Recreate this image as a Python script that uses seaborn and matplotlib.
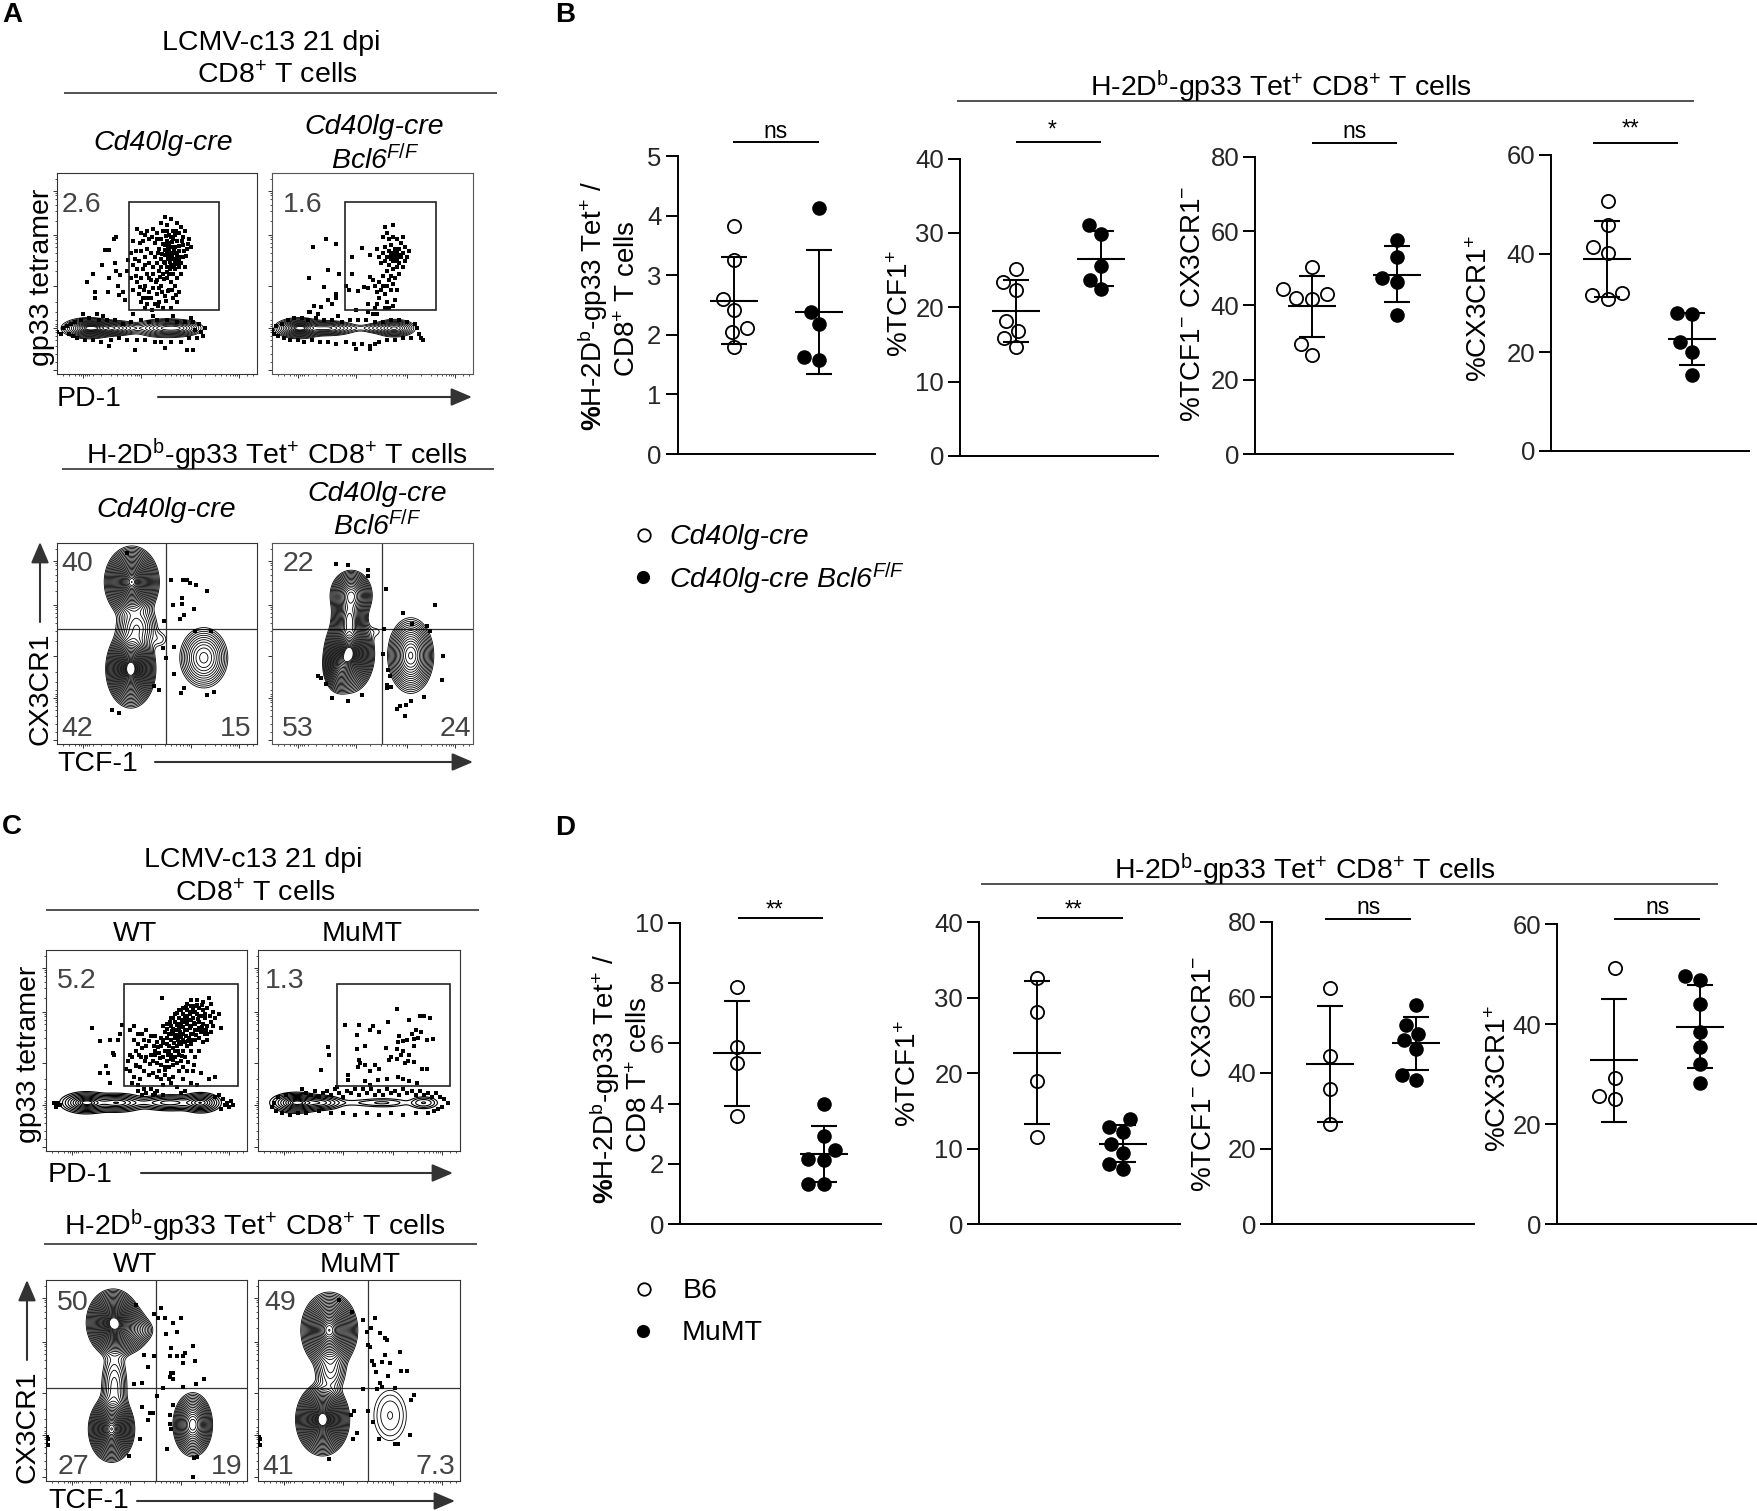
import numpy as np
import pandas as pd
import matplotlib
matplotlib.use("Agg")
import matplotlib.pyplot as plt
from matplotlib.patches import Rectangle
import seaborn as sns

# ---- dot plot values ----
B_CRE_TET = [3.82, 3.26, 2.60, 2.41, 2.11, 2.04, 1.79]
B_BCL_TET = [4.13, 2.39, 2.18, 1.63, 1.57]
B_CRE_TCF = [25.1, 23.4, 22.3, 18.2, 16.8, 15.8, 14.6]
B_BCL_TCF = [31.0, 29.8, 25.6, 23.7, 22.4]
B_CRE_DN = [50.2, 44.3, 43.0, 42.0, 41.6, 29.6, 26.7]
B_BCL_DN = [57.5, 52.9, 47.3, 46.4, 37.5]
B_CRE_CX = [50.6, 45.9, 41.4, 40.2, 32.1, 31.7, 30.9]
B_BCL_CX = [28.0, 27.8, 22.0, 20.1, 15.5]

D_B6_TET = [7.85, 5.86, 5.33, 3.59]
D_MU_TET = [3.99, 2.91, 2.45, 2.15, 2.13, 1.33, 1.33]
D_B6_TCF = [32.6, 28.1, 18.9, 11.5]
D_MU_TCF = [13.9, 12.9, 12.2, 10.6, 9.4, 8.0, 7.3]
D_B6_DN = [62.5, 44.6, 35.7, 26.4]
D_MU_DN = [58.1, 52.7, 50.3, 48.7, 46.4, 39.6, 38.2]
D_B6_CX = [51.2, 29.2, 25.7, 25.0]
D_MU_CX = [49.7, 48.9, 44.0, 38.5, 35.4, 32.1, 28.2]

# mean, sd low, sd high for open and filled groups
B_STATS = [[(2.57, 1.85, 3.31), (2.38, 1.35, 3.42)],
           [(19.5, 15.3, 23.6), (26.5, 22.8, 30.3)],
           [(39.7, 31.4, 48.0), (48.3, 40.8, 55.9)],
           [(39.0, 31.3, 46.7), (22.8, 17.4, 28.0)]]
D_STATS = [[(5.66, 3.91, 7.41), (2.34, 1.41, 3.25)],
           [(22.7, 13.3, 32.2), (10.6, 8.2, 13.1)],
           [(42.4, 27.0, 57.8), (47.8, 40.9, 54.8)],
           [(32.9, 20.5, 45.1), (39.5, 31.3, 47.8)]]

B_TICKS = [[0, 1, 2, 3, 4, 5], [0, 10, 20, 30, 40], [0, 20, 40, 60, 80], [0, 20, 40, 60]]
D_TICKS = [[0, 2, 4, 6, 8, 10], [0, 10, 20, 30, 40], [0, 20, 40, 60, 80], [0, 20, 40, 60]]

# ---- flow panels: events in 0-100 display units ----
A_TL_DOTS = [(29.7,68),(28.7,67),(24,61.5),(26,61.5),(29,55),(22.6,54),(17.8,49.7),(15,45.8),(18.8,40.7),(18.8,38),
    (25.4,40.7),(26,47.7),(29.6,51),(31.6,49.3),(30.7,44),(33,41),(31,39.4),(34,37),(35.7,56.8),(35,51),
    (38,66),(37,60),(39,57),(38,54),(40,52),(37,48),(40,46),(38,42),(41,40),(42,36),(44,33),(43,38),(45,35),(46,41),
    (44,44),(42,48),(43,52),(45,50),(47,47),(48,43),(47,38),(49,35),(51,36),(50,40),(52,44),(50,47),(51,51),(48,53),
    (46,55),(44,58),(42,61),(45,62),(47,60),(43,66),(46,67),(49,65),(51,62),(49,58),(52,57),(54,55),(53,50),(55,48),
    (57,46),(56,42),(54,39),(58,38),(60,36),(57,33),(53,33),(61,41),(59,44),(60,48),(62,50),(59,52),(57,54),(56,58),
    (58,60),(60,57),(62,55),(64,53),(63,58),(61,61),(59,63),(56,62),(54,64),(52,67),(50,70),(48,72),(45,71),(42,70),
    (40,72),(53,71),(56,69),(58,67),(60,66),(63,64),(65,62),(67,63),(66,67),(63,68),(61,70),(58,71),(55,74),(52,75),
    (57,77),(54,78),(60,75),(62,73),(64,71),(56,65),(55,60),(57,57),(59,55),(58,50),(56,50),(55,53),(61,53),(60,59),
    (57,63),(54,59),(52,53),(50,55),(48,50),(46,48),(44,54),(41,56),(55,66),(57,68),(59,69),(55,71),(59,60),(58,57),
    (55.6,57.3),(57.4,59.2),(58.7,61.6),(60.8,63.7),(56.3,60.4),(54.2,61.7),(52.6,59.8),(50.7,60.3),(53.4,55.9),
    (56.7,52.2),(58.3,53.4),(60.3,54.6),(61.7,58.2),(55.2,50.7),(53.7,47.2),(51.4,48.4),(49.3,45.6),(50.8,42.7),
    (52.7,40.6),(55.3,41.3),(57.6,41.8),(59.3,39.4),(54.6,36.3),(50.3,33.8),(47.6,31.7),(45.2,37.6),(43.7,41.6),
    (41.3,43.4),(39.4,48.8),(39.7,61.3),(41.6,65.3),(44.2,69.4),(47.3,68.2),(50.2,67.4),(52.8,64.6),(54.7,68.7),
    (57.4,65.6),(59.6,71.3),(62.4,66.2),(61.2,56.7),(63.6,61.4),(64.7,58.8),(65.6,64.7),(55.7,63.2),(56.6,55.6),
    (0,21),(2,20),(3,23),(5,24),(6,20),(7,25),(8,19),(9,26),(10,18),(12,27),(13,30),(14,17),(16,28),(18,17),(20,30),
    (21,27),(22,16),(23,29),(25,27),(26,14),(27,17),(29,27),(31,18),(33,25),(35,17),(37,26),(38,30),(39,12),(40,17),
    (42,27),(44,17),(46,26),(48,29),(49,16),(50,27),(52,16),(54,13),(55,27),(57,16),(58,29),(60,26),(62,16),(64,26),
    (65,12),(66,18),(68,12),(68,26),(70,18),(71,25),(72,21),(73,19),(74,23),(69,22),(67,28)]
A_TR_DOTS = [(27,67),(20.6,63),(32,64.6),(27.7,51.8),(33.5,50),(18.6,47.7),(26,43.5),(37,44),(31.6,40),(32,37.7),
    (27.7,37),(30,35),(21,33.9),(24.4,33.5),(18.6,31),(40,58),(45,62.6),(49,59),(40,50),(38.5,42),(42.7,41.5),
    (46,43.5),(49,48.5),(47.7,35),(48,43),(50,47),(51,44),(52,41),(53,46),(54,42),(55,44),(56,40),(53,38),(52,35),
    (51,33),(57,36),(58,33),(60,34),(61,37),(62,42),(60,45),(58,47),(57,44),(59,42),(55,49),(57,51),(59,49),(61,48),
    (63,50),(62,53),(60,52),(58,54),(56,56),(54,55),(53,58),(55,60),(57,58),(59,57),(61,56),(63,55),(65,53),(66,56),
    (64,58),(62,60),(60,60),(58,61),(56,63),(59,64),(61,62),(63,62),(65,60),(67,58),(68,61),(66,63),(64,65),(62,67),
    (60,68),(58,67),(65,68),(57,70),(56,73),(60,74),(55,68),(63,59),(61,58),(62,57),(60,56),(59,59),(52,62),(48,31),
    (50,30),(52,30),(42,32),(56,33),
    (0,22),(1,20),(2,24),(3,19),(5,25),(6,18),(8,27),(9,17),(11,28),(13,17),(15,28),(16,16),(18,27),(19,31),(20,17),
    (22,28),(23,30),(24,16),(26,27),(28,16),(30,27),(32,15),(33,29),(35,26),(37,16),(39,27),(41,15),(43,27),(45,15),
    (47,27),(49,14),(51,26),(51,15),(42,12.5),(49,12.5),(53,16),(55,26),(57,17),(59,27),(61,17),(63,27),(65,18),(67,26),
    (69,18),(71,25),(73,20),(74,18),(75,17),(72,23)]
A_BL_DOTS = [(35,95),(56.8,81.4),(62.8,81.4),(65,81.7),(66.3,80),(69.3,79),(74.8,76),(62.6,72.6),(62.6,69.8),(68.4,67),
    (63.5,64),(61.5,62),(58,69),(53.7,61),(69,56),(77,56),(53,47.7),(58.6,48.5),(54.3,43),(58.6,35),(48.5,29),(51,27),
    (63.5,27.7),(62,25.6),(74.8,24.4),(78.6,26),(27.4,17),(31,15.3)]
A_BR_DOTS = [(31.6,89.7),(38,88.9),(47.7,86.7),(48,83.4),(56.5,77),(81,69),(65,65.4),(69.6,59.6),(77,58.5),(78.4,56),
    (55.6,57),(85,44),(84.7,32),(55,44.7),(23,34),(24.4,32.7),(27,29.7),(29.7,23),(38,21.6),(45,24.4),(57.6,36.9),
    (58.5,33.6),(57.3,29.3),(57.3,27.7),(59,28.6),(75.4,23.6),(69,21.6),(66.8,19.4),(63.5,19),(62.3,17.3),(66,14)]
C_TL_DOTS = [(23,61.4),(27,54.5),(32,55),(36,55),(37,58),(37.6,62.7),(33.4,48.7),(34,48),(30,42.4),(27,38.7),(31,38.7),
    (32,33.8),(57.5,76.3),(62,62),(64,64),(66,66),(68,68),(70,70),(72,72),(74,72),(76,71),(78,70),(80,71),(82,73),(75,68),
    (77,67),(79,66),(73,66),(71,65),(69,64),(67,62),(65,60),(63,58),(61,58),(60,56),(62,55),(64,56),(66,57),(68,58),
    (70,60),(72,62),(74,63),(76,64),(78,63),(80,62),(82,64),(84,66),(86,68),(87,61),(82,59),(79,58),(77,59),(75,60),
    (73,58),(71,56),(69,54),(67,53),(65,52),(63,51),(61,50),(59,50),(57,52),(55,54),(57,56),(59,59),(58,62),(60,63),
    (62,66),(64,68),(66,70),(68,71),(70,73),(72,75),(75,75),(78,74),(81,76),(66,61),(69,60),(72,58),(74,55),(76,56),
    (78,54),(80,55),(70,52),(68,50),(66,48),(64,47),(62,46),(60,45),(58,47),(56,49),(54,50),(52,48),(50,47),(48,51),
    (46,53),(44,55),(50,52),(53,45),(55,44),(57,43),(59,42),(61,42),(63,43),(65,44),(67,45),(69,47),(72,50),(74,47),
    (76,50),(42,60),(44,62),(46,58),(48,58),(50,60),(52,57),(54,57),(45,50),(43,47),(41,45),(40,41),(42,40),(45,43),
    (47,42),(49,40),(51,38),(53,39),(55,37),(57,36),(59,38),(61,36),(63,37),(66,40),(68,42),(70,40),(73,40),(77,39),
    (43,34),(46,33),(49,31),(52,31),(55,30),(58,33),(62,34),(65,32),(68,36),(72,34),(75,33),(81,36),(84,37),(42,48),
    (44,37),(47,36),(64,60),(66,63),(68,65),(70,67),(72,69),(74,69),(76,67),(70,63),(72,65),(74,60),(76,61),(68,55),
    (64,50),(62,48),(60,53),(58,55),(66,54),(72,53),(78,60),(80,58),(83,62),
    (63.3,60.7),(65.4,62.6),(67.6,64.3),(69.3,66.4),(71.4,68.3),(73.2,70.6),(75.3,72.4),(77.6,72.8),(79.3,68.4),
    (81.4,67.2),(83.3,69.4),(71.6,61.3),(73.4,63.7),(75.7,65.6),(77.4,61.8),(79.6,60.3),(68.4,61.7),(66.7,59.4),
    (64.6,57.8),(62.7,59.6),(60.4,60.8),(61.3,52.3),(63.6,53.7),(65.7,55.4),(67.4,56.6),(69.6,57.3),(70.7,54.6),
    (72.6,55.3),(74.6,57.8),(61.6,64.3),(63.4,66.4),(65.3,68.6),(67.3,70.3),(69.7,71.6),(55.6,51.7),(58.4,53.6),
    (56.7,46.3),(54.4,47.6),(51.6,43.4),(49.4,44.6),(47.3,46.7),(60.7,47.8),(63.4,45.4),(65.7,49.6),(67.6,47.3),
    (70.4,44.3),(48.6,55.3),(51.3,54.7),(53.6,52.4),(46.4,47.6),(44.6,42.3),(59.4,40.3),(56.4,39.6),(73.6,42.6),
    (46,30),(50,29),(54,29),(58,28),(48,28),
    (53,28),(67,29),(69,30),(84,27),(88,26),(90,24),(92,25),(89,23),(91,22),(93,23),(87,21),(86,28),(6,24),(5,22),(7,23),(4,24)]
C_TR_DOTS = [(69,70.5),(43,62.7),(50,62.7),(56.8,62),(55.5,60),(64.6,64),(75,65),(80,67),(82,67),(85,66),(49,57.8),
    (60,59.4),(78,60),(80.6,59.4),(83.6,55.3),(86.4,55.6),(77,55.6),(74,55),(72,54.5),(69.5,54),(53,52),(48.8,50.7),
    (63.4,51),(68.7,50.7),(77,52),(71,48),(65,45.4),(50,45.4),(50.6,43.7),(53,43),(58,43),(49.5,42),(60,41),(55.5,39.6),
    (69,45.7),(73,43.7),(74.5,45),(77,44.5),(81,41),(83.6,41),(69.5,37),(72,36),(44.7,38),(44.7,35.4),(53,34.6),
    (55.5,33),(59.6,35.4),(63.7,35.8),(75,34.6),(78.6,33.8),(34.8,51.7),(35.3,47.8),(31,40.4),(39,32),(75,48),(72,50),
    (79,56),(70,57),(66,47),(76,58),
    (22,31),(24,29),(26,28),(28,30),(30,27),(32,29),(34,30),(36,28),(38,31),(40,29),(42,27),(44,30),(46,29),(48,31),
    (50,28),(52,31),(54,29),(56,31),(58,28),(60,30),(62,28),(64,31),(66,29),(68,30),(70,28),(72,31),(74,29),(76,30),
    (78,28),(80,30),(82,28),(84,29),(86,27),(88,29),(90,27),(92,26),(94,24),(91,22),(89,21),(87,20),(8,24),(7,22),
    (9,20),(10,27),(12,19),(14,28),(16,18),(20,19),(24,19),(30,20),(36,19),(42,19),(48,18),(54,19),(60,18),(66,19),(72,18),(78,19),(84,19)]
C_BL_DOTS = [(45,87.7),(57,86),(53.6,83),(55.8,81),(59.4,81),(67.4,81),(63,78.6),(65,74),(59.6,73),(73,67),(62,66),
    (49,62.6),(53.6,62),(61.6,62),(65,62),(69,63.7),(68,62),(50.8,56.8),(74,59.6),(68,58.8),(62.4,53.5),(63.4,53.5),
    (61.6,51.8),(63,50.5),(43.7,48.5),(48,48.8),(78.5,50.5),(74.8,48.5),(68,47),(58.3,46.2),(55,42.4),(48,36.6),
    (51.7,34),(53.3,34),(50.8,30.3),(63,38),(61.6,33),(61.6,28.6),(62.4,26),(47,21),(60,15.7),(41.4,12.4),(73.7,11.3),
    (75,12),(73,1.8),(0,20),(0.5,22),(1,21),(0,19),(1,18)]
C_BR_DOTS = [(40,90),(46.4,84),(52,80),(58,81),(56,76),(53.8,74),(60.4,73.7),(63,71),(63.7,70),(54.6,67.5),(55.5,66.7),
    (70.4,64),(63,62.6),(56.3,59.8),(57.5,57.6),(61.3,59),(65.4,58.8),(58.3,54),(71,54.8),(74,54.8),(64.2,52),(60.4,49),
    (61.3,46.8),(58.8,45.7),(52,45.7),(68,46.5),(77,43),(75.7,40.4),(54.3,35),(47.5,35),(45.9,32.8),(57,29.5),(48.8,24),
    (47.2,21),(60,21),(75.3,23),(67.9,18.4),(69.5,18.4),(35.3,10.9),(0,20),(0.5,22),(1,21),(0,19),(1,18)]

# density peaks behind the contour lines: centre x, centre y, spread x, spread y, weight
A_TL_PEAKS = [(16,22.8,5,1.9,1),(27,22.8,6,1.5,.6),(40,22.8,8,.9,.05),(54,22.8,6,1.8,.6),(62,22.8,4.5,1.6,.35)]
A_TR_PEAKS = [(13.6,22.8,4.5,1.9,1),(27,22.8,6,1.5,.5),(38,22.8,8,.9,.04),(53,22.8,4,1.2,.15),(61,22.8,4,1.7,.6)]
A_BL_PEAKS = [(37.4,80.6,5,6.5,.9),(36.9,37.4,4.5,7,1),(40,58,5,6,.15),(73.4,42.9,5.6,7,.2),(52,52,3,3,.025)]
A_BR_PEAKS = [(39.4,74,4.2,5,.45),(38.5,62,3.5,5,.4),(38.5,45,4.5,7,1),(33,38,3,5,.35),(69,44,4.7,7.7,.4),(52,56,3,2.5,.02)]
C_TL_PEAKS = [(20,24,5,2.1,1),(35,24,6,1.9,.7),(48,24,7,1.1,.1),(62,24,7,1.7,.5),(77,24,4,2,.8)]
C_TR_PEAKS = [(19,24,5,2,1),(30.6,24,5,1.6,.5),(45,24,9,1,.04),(62,24,7,1.2,.12),(82,24,3.5,1.5,.2)]
C_BL_PEAKS = [(33.4,78.8,4.8,6,1),(40,75,5,5,.25),(48,75,3.5,3,.035),(32.6,25.8,4.2,6,.9),(34,47,3.5,10,.1),(73,28,3.9,6.3,.5)]
C_BR_PEAKS = [(35.3,75,5.2,7,.8),(36,55,4,6,.1),(32,30.6,4.8,6.5,1),(65.4,32.6,6.3,9.8,.045)]

GATE_TOP_A = [(36, 31.8, 81, 85.6), (36.3, 31.8, 81.4, 85.6)]
GATE_TOP_C = [(38.8, 32.3, 95.3, 83), (38.9, 32.3, 95.2, 83)]

FLOW_X_MAJOR = [13, 42, 67, 91]
FLOW_X_MINOR = [3, 6, 9, 11, 12, 14, 15, 16, 18, 22, 27, 30, 33, 35, 37, 39, 40, 41, 49, 54, 57, 59.5, 61.5, 63, 65, 66,
                74, 79, 82, 84.5, 86.5, 88, 89, 90, 95, 98]
FLOW_Y_MAJOR = [2, 23, 44, 69, 91]
FLOW_Y_MINOR = [6, 10, 14, 17, 19, 21, 22, 24, 25, 27, 31, 36, 51, 56, 60, 63, 65, 67, 68, 76, 81, 84, 87, 89, 90, 97]

sns.set_theme(style="ticks")
plt.rcParams['font.family'] = ['Liberation Sans', 'DejaVu Sans']
plt.rcParams['mathtext.fontset'] = 'custom'
plt.rcParams['mathtext.rm'] = 'Liberation Sans'
plt.rcParams['mathtext.it'] = 'Liberation Sans:italic'
plt.rcParams['mathtext.bf'] = 'Liberation Sans:bold'
plt.rcParams['text.color'] = 'black'

W, H = 1758, 1511
fig = plt.figure(figsize=(W / 100, H / 100), dpi=100)


def px_axes(left, right, top, bottom):
    return fig.add_axes([left / W, 1 - bottom / H, (right - left) / W, (bottom - top) / H])


def dot_panel(ax, open_vals, closed_vals, stats, ticks, c0, c1):
    # c0, c1 are the pixel centres of both groups, used only to set the x limits
    left, right = ax.get_position().x0 * W, ax.get_position().x1 * W
    unit = c1 - c0
    names = ['a', 'b']
    df = pd.DataFrame({'group': ['a'] * len(open_vals) + ['b'] * len(closed_vals),
                       'value': list(open_vals) + list(closed_vals)})
    sns.swarmplot(data=df[df.group == 'a'], x='group', y='value', order=names, ax=ax, size=9.5,
                  color='white', edgecolor='black', linewidth=1.3, zorder=2)
    sns.swarmplot(data=df[df.group == 'b'], x='group', y='value', order=names, ax=ax, size=10.5,
                  color='black', edgecolor='black', linewidth=0, zorder=2)
    for i, (mean, low, high) in enumerate(stats):
        ax.errorbar(i, mean, yerr=[[mean - low], [high - mean]], fmt='_', color='black', markersize=35,
                    markeredgewidth=1.5, elinewidth=1.4, capsize=9.5, capthick=1.5, zorder=3)
    ax.set_xlim((left - c0) / unit, (right - c0) / unit)
    ax.set_ylim(0, ticks[-1])
    ax.set_yticks(ticks)
    ax.set_xticks([])
    ax.set_xlabel('')
    ax.set_ylabel('')
    ax.tick_params(axis='y', length=8.6, width=1.4, labelsize=18.5, pad=3, color='black')
    ax.patch.set_alpha(0)
    for side in ['left', 'bottom']:
        ax.spines[side].set_linewidth(1.4)
        ax.spines[side].set_color('black')
    sns.despine(ax=ax)


def flow_panel(ax, dots, peaks, n_levels, gate=None, quad=None, low=0.02, lw=0.6, edge='#333333'):
    grid = np.linspace(0, 100, 500)
    gx, gy = np.meshgrid(grid, grid)
    z = np.zeros_like(gx)
    for cx, cy, sx, sy, w in peaks:
        z += w * np.exp(-0.5 * ((gx - cx) / sx) ** 2 - 0.5 * ((gy - cy) / sy) ** 2)
    # contour radii grow with the level index so the outer rings sit further apart
    rmax = np.sqrt(2 * np.log(z.max() / low))
    radii = rmax * np.linspace(0.25, 1, n_levels) ** 1.3
    levels = np.sort(z.max() * np.exp(-0.5 * radii ** 2))
    ax.contour(gx, gy, z, levels=levels, colors='black', linewidths=lw)
    sns.scatterplot(data=pd.DataFrame(dots, columns=['x', 'y']), x='x', y='y', ax=ax, marker='s', s=5,
                    color='black', linewidth=0, zorder=3)
    if gate:
        x0, y0, x1, y1 = gate
        ax.add_patch(Rectangle((x0, y0), x1 - x0, y1 - y0, fill=False, edgecolor='#222222', lw=1.2, zorder=4))
    if quad:
        ax.axvline(quad[0], color='#333333', lw=0.9, zorder=1)
        ax.axhline(quad[1], color='#333333', lw=0.9, zorder=1)
    ax.set_xlim(0, 100)
    ax.set_ylim(0, 100)
    ax.set_xticks(FLOW_X_MAJOR)
    ax.set_yticks(FLOW_Y_MAJOR)
    ax.set_xticks(FLOW_X_MINOR, minor=True)
    ax.set_yticks(FLOW_Y_MINOR, minor=True)
    ax.set_xticklabels([])
    ax.set_yticklabels([])
    ax.set_xlabel('')
    ax.set_ylabel('')
    ax.tick_params(which='major', length=3, width=0.7, color='#333333')
    ax.tick_params(which='minor', length=1.6, width=0.6, color='#333333')
    for s in ax.spines.values():
        s.set_linewidth(0.8)
        s.set_color(edge)


# ---- flow panels ----
flow_panel(px_axes(57, 257, 173, 374), A_TL_DOTS, A_TL_PEAKS, 14, gate=GATE_TOP_A[0])
flow_panel(px_axes(272, 473, 173, 374), A_TR_DOTS, A_TR_PEAKS, 14, gate=GATE_TOP_A[1], edge='#555555')
flow_panel(px_axes(57, 257, 543, 744), A_BL_DOTS, A_BL_PEAKS, 28, quad=(54.5, 57))
flow_panel(px_axes(272, 473, 543, 744), A_BR_DOTS, A_BR_PEAKS, 28, quad=(54.6, 57), edge='#555555')
flow_panel(px_axes(46, 247, 950, 1151), C_TL_DOTS, C_TL_PEAKS, 10, gate=GATE_TOP_C[0], low=0.03, lw=0.8)
flow_panel(px_axes(258, 460, 950, 1151), C_TR_DOTS, C_TR_PEAKS, 10, gate=GATE_TOP_C[1], low=0.03, lw=0.8)
flow_panel(px_axes(46, 247, 1280, 1481), C_BL_DOTS, C_BL_PEAKS, 28, quad=(54.7, 46.4))
flow_panel(px_axes(258, 460, 1280, 1481), C_BR_DOTS, C_BR_PEAKS, 28, quad=(54.3, 46.4))

# ---- dot plots ----
dot_panel(px_axes(677.6, 875.3, 156.2, 454), B_CRE_TET, B_BCL_TET, B_STATS[0], B_TICKS[0], 733.8, 818.8)
dot_panel(px_axes(960, 1157.6, 158.6, 455.9), B_CRE_TCF, B_BCL_TCF, B_STATS[1], B_TICKS[1], 1016.5, 1101.1)
dot_panel(px_axes(1255.5, 1453, 156.7, 454), B_CRE_DN, B_BCL_DN, B_STATS[2], B_TICKS[2], 1312, 1397)
dot_panel(px_axes(1551.3, 1749, 155, 451), B_CRE_CX, B_BCL_CX, B_STATS[3], B_TICKS[3], 1607.5, 1692)
dot_panel(px_axes(680, 880.8, 922.5, 1224.3), D_B6_TET, D_MU_TET, D_STATS[0], D_TICKS[0], 737.3, 823.5)
dot_panel(px_axes(979.3, 1180, 922, 1224.3), D_B6_TCF, D_MU_TCF, D_STATS[1], D_TICKS[1], 1036.6, 1122.8)
dot_panel(px_axes(1272.5, 1473.8, 921.7, 1224.3), D_B6_DN, D_MU_DN, D_STATS[2], D_TICKS[2], 1329.9, 1416)
dot_panel(px_axes(1557, 1756.8, 924.3, 1224.3), D_B6_CX, D_MU_CX, D_STATS[3], D_TICKS[3], 1614.5, 1699.8)

# ---- overlay in pixel coordinates for titles, rules, labels ----
ov = fig.add_axes([0, 0, 1, 1], zorder=10)
ov.set_xlim(0, W)
ov.set_ylim(H, 0)
ov.axis('off')


def txt(x, y, s, size=20.5, ha='center', rot=0, **kw):
    # small offset: va='center' sits a little high against the reference
    if rot:
        x, y = x + 4, y + 2
    else:
        y = y + 2
    ov.text(x, y, s, fontsize=size, ha=ha, va='center', rotation=rot, rotation_mode='anchor', **kw)


def rule(x0, x1, y, color='#333333', lw=1.2):
    ov.plot([x0, x1], [y, y], color=color, lw=lw, solid_capstyle='butt')


def arrow(x0, y0, x1, y1):
    ov.annotate('', xy=(x1, y1), xytext=(x0, y0),
                arrowprops=dict(arrowstyle='-|>,head_length=0.75,head_width=0.32', color='#333333', lw=1.5,
                                shrinkA=0, shrinkB=0, mutation_scale=17))


TET = r'H-2D$^{\mathrm{b}}$-gp33 Tet$^{+}$ CD8$^{+}$ T cells'
CD8 = r'CD8$^{+}$ T cells'
BCL = r'Bcl6$^{\mathit{F/F}}$'

for x, y, s in [(12, 13, 'A'), (565, 13, 'B'), (12, 825, 'C'), (565, 826, 'D')]:
    txt(x, y, s, size=20, weight='bold')

# panel A
txt(271, 41, 'LCMV-c13 21 dpi')
txt(277, 74, CD8)
rule(64, 497, 93)
txt(163, 141, 'Cd40lg-cre', style='italic')
txt(374, 125, 'Cd40lg-cre', style='italic')
txt(375, 158, BCL, style='italic')
txt(38, 275, 'gp33 tetramer', rot=90)
txt(57, 397, 'PD-1', ha='left')
arrow(158, 397, 472, 397)
txt(81, 203, '2.6', color='#444444')
txt(303, 203, '1.6', color='#444444')
txt(277, 453, TET)
rule(62, 494, 468.7)
txt(166, 508, 'Cd40lg-cre', style='italic')
txt(377, 492, 'Cd40lg-cre', style='italic')
txt(377, 524, BCL, style='italic')
txt(37, 687, 'CX3CR1', rot=90)
arrow(40, 622, 40, 542)
txt(57, 762, 'TCF-1', ha='left')
arrow(155, 762, 473, 762)
for x, y, s in [(77, 562, '40'), (77, 727, '42'), (236, 727, '15'), (298, 562, '22'), (298, 727, '53'), (455, 727, '24')]:
    txt(x, y, s, color='#444444')

# panel C
txt(253, 858, 'LCMV-c13 21 dpi')
txt(255, 892, CD8)
rule(46, 479, 910)
txt(135, 932, 'WT')
txt(362, 932, 'MuMT')
txt(25, 1052, 'gp33 tetramer', rot=90)
txt(48, 1173, 'PD-1', ha='left')
arrow(141, 1173, 453, 1173)
txt(77, 979, '5.2', color='#444444')
txt(285, 979, '1.3', color='#444444')
txt(255, 1224, TET)
rule(44, 477, 1244)
txt(135, 1263, 'WT')
txt(360, 1263, 'MuMT')
txt(24, 1425, 'CX3CR1', rot=90)
arrow(27, 1360, 27, 1280)
txt(48, 1499, 'TCF-1', ha='left')
arrow(137, 1501, 455, 1501)
for x, y, s in [(73, 1301, '50'), (73, 1465, '27'), (227, 1465, '19'), (280, 1301, '49'), (278, 1465, '41'), (435, 1465, '7.3')]:
    txt(x, y, s, color='#444444')

# panel B headers and labels
txt(1281, 85, TET)
rule(957, 1693.6, 101.2)
txt(589, 304, r'$\mathbf{\%}$H-2D$^{\mathrm{b}}$-gp33 Tet$^{+}$ /', rot=90, size=20)
txt(624, 297, CD8, rot=90, size=20)
txt(897, 302, r'%TCF1$^{+}$', rot=90, size=20)
txt(1189, 302, r'%TCF1$^{-}$ CX3CR1$^{-}$', rot=90, size=20)
txt(1476, 307, r'%CX3CR1$^{+}$', rot=90, size=20)
for x0, x1, y, s, tx, ty in [(733.4, 819, 142.3, 'ns', 776, 130), (1015.7, 1101, 142.3, '*', 1052, 128),
                             (1311.7, 1397.4, 142.7, 'ns', 1354.7, 130), (1593, 1678.5, 142.7, '**', 1631, 127)]:
    rule(x0, x1, y, color='black', lw=1.4)
    txt(tx, ty, s, size=16.5)

# panel D headers and labels
txt(1305, 868, TET)
rule(981, 1718, 884.3)
txt(601, 1077, r'$\mathbf{\%}$H-2D$^{\mathrm{b}}$-gp33 Tet$^{+}$ /', rot=90, size=20)
txt(636, 1073, r'CD8 T$^{+}$ cells', rot=90, size=20)
txt(904.6, 1072, r'%TCF1$^{+}$', rot=90, size=20)
txt(1200, 1072, r'%TCF1$^{-}$ CX3CR1$^{-}$', rot=90, size=20)
txt(1495, 1077, r'%CX3CR1$^{+}$', rot=90, size=20)
for x0, x1, y, s, tx, ty in [(737.7, 823.5, 918, '**', 775, 908), (1037, 1122.8, 918, '**', 1074, 908),
                             (1325, 1411, 918.7, 'ns', 1369, 906), (1614.5, 1700, 918.7, 'ns', 1658, 906)]:
    rule(x0, x1, y, color='black', lw=1.4)
    txt(tx, ty, s, size=16.5)

# legends
ov.plot([644], [535], 'o', mfc='white', mec='black', ms=9, mew=1.3)
ov.plot([643], [577], 'o', mfc='black', mec='black', ms=9.5, mew=0)
txt(669, 535, 'Cd40lg-cre', ha='left', style='italic')
txt(669, 577, r'Cd40lg-cre Bcl6$^{\mathit{F/F}}$', ha='left', style='italic')
ov.plot([644.5], [1288.6], 'o', mfc='white', mec='black', ms=9, mew=1.3)
ov.plot([643], [1331], 'o', mfc='black', mec='black', ms=9.5, mew=0)
txt(683, 1288.6, 'B6', ha='left')
txt(682, 1331, 'MuMT', ha='left')

fig.savefig('out.png', dpi=100)
